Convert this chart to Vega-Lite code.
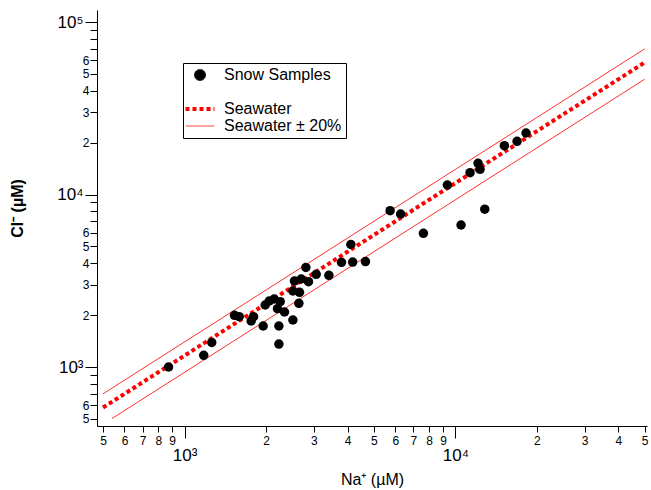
{
  "$schema": "https://vega.github.io/schema/vega-lite/v6.json",
  "width": 550,
  "height": 416,
  "autosize": "none",
  "padding": {"left": 97, "top": 10, "right": 4, "bottom": 64},
  "background": "white",
  "config": {
    "font": "Liberation Sans",
    "view": {"stroke": null},
    "axis": {
      "domainColor": "black",
      "tickColor": "black",
      "labelColor": "black",
      "titleColor": "black",
      "grid": false,
      "labelOverlap": false,
      "labelFlush": false,
      "labelBound": false,
      "labelFont": "Liberation Sans",
      "titleFont": "Liberation Sans"
    }
  },
  "datasets": {
    "snow": [
      {"series": "Snow Samples", "na": 873, "cl": 1000},
      {"series": "Snow Samples", "na": 1177, "cl": 1169},
      {"series": "Snow Samples", "na": 1260, "cl": 1387},
      {"series": "Snow Samples", "na": 1529, "cl": 1994},
      {"series": "Snow Samples", "na": 1591, "cl": 1957},
      {"series": "Snow Samples", "na": 1762, "cl": 1848},
      {"series": "Snow Samples", "na": 1798, "cl": 1957},
      {"series": "Snow Samples", "na": 1951, "cl": 1729},
      {"series": "Snow Samples", "na": 1985, "cl": 2288},
      {"series": "Snow Samples", "na": 2054, "cl": 2413},
      {"series": "Snow Samples", "na": 2143, "cl": 2479},
      {"series": "Snow Samples", "na": 2230, "cl": 1729},
      {"series": "Snow Samples", "na": 2230, "cl": 1359},
      {"series": "Snow Samples", "na": 2255, "cl": 2391},
      {"series": "Snow Samples", "na": 2204, "cl": 2178},
      {"series": "Snow Samples", "na": 2339, "cl": 2084},
      {"series": "Snow Samples", "na": 2512, "cl": 1873},
      {"series": "Snow Samples", "na": 2643, "cl": 2340},
      {"series": "Snow Samples", "na": 2657, "cl": 2710},
      {"series": "Snow Samples", "na": 2512, "cl": 2758},
      {"series": "Snow Samples", "na": 2546, "cl": 3152},
      {"series": "Snow Samples", "na": 2696, "cl": 3237},
      {"series": "Snow Samples", "na": 2805, "cl": 3774},
      {"series": "Snow Samples", "na": 2868, "cl": 3122},
      {"series": "Snow Samples", "na": 3062, "cl": 3446},
      {"series": "Snow Samples", "na": 3411, "cl": 3401},
      {"series": "Snow Samples", "na": 3797, "cl": 4045},
      {"series": "Snow Samples", "na": 4112, "cl": 5131},
      {"series": "Snow Samples", "na": 4176, "cl": 4061},
      {"series": "Snow Samples", "na": 4655, "cl": 4088},
      {"series": "Snow Samples", "na": 5741, "cl": 8056},
      {"series": "Snow Samples", "na": 6278, "cl": 7708},
      {"series": "Snow Samples", "na": 7619, "cl": 5959},
      {"series": "Snow Samples", "na": 10495, "cl": 6656},
      {"series": "Snow Samples", "na": 12838, "cl": 8217},
      {"series": "Snow Samples", "na": 9343, "cl": 11352},
      {"series": "Snow Samples", "na": 11329, "cl": 13381},
      {"series": "Snow Samples", "na": 12128, "cl": 15169},
      {"series": "Snow Samples", "na": 12334, "cl": 14000},
      {"series": "Snow Samples", "na": 15165, "cl": 19180},
      {"series": "Snow Samples", "na": 16894, "cl": 20340},
      {"series": "Snow Samples", "na": 18235, "cl": 22725}
    ],
    "band": [
      {"series": "Seawater ± 20%", "line": "upper", "na": 500, "cl": 699},
      {"series": "Seawater ± 20%", "line": "upper", "na": 50000, "cl": 69900},
      {"series": "Seawater ± 20%", "line": "lower", "na": 540, "cl": 503},
      {"series": "Seawater ± 20%", "line": "lower", "na": 50000, "cl": 46600}
    ],
    "sea": [
      {"series": "Seawater", "na": 500, "cl": 582.5},
      {"series": "Seawater", "na": 50000, "cl": 58250}
    ]
  },
  "encoding": {
    "x": {
      "field": "na",
      "type": "quantitative",
      "scale": {"type": "log", "domain": [475, 51000], "nice": false},
      "axis": {
        "title": "Na⁺ (µM)",
        "titleFontSize": 16,
        "titleFontWeight": "normal",
        "titleY": 45,
        "titleBaseline": "top",
        "values": [500, 600, 700, 800, 900, 1000, 2000, 3000, 4000, 5000, 6000, 7000, 8000, 9000, 10000, 20000, 30000, 40000, 50000],
        "labelExpr": "datum.value == 1000 ? '10³' : datum.value == 10000 ? '10⁴' : substring(toString(datum.value), 0, 1)",
        "labelFontSize": {"condition": {"test": "datum.value == 1000 || datum.value == 10000", "value": 17}, "value": 12},
        "tickSize": {"condition": {"test": "datum.value == 1000 || datum.value == 10000", "value": 12}, "value": 6},
        "labelPadding": {"condition": {"test": "datum.value == 1000 || datum.value == 10000", "value": 9}, "value": 3}
      }
    },
    "y": {
      "field": "cl",
      "type": "quantitative",
      "scale": {"type": "log", "domain": [455, 117400], "nice": false},
      "axis": {
        "title": "Cl⁻ (µM)",
        "titleFontSize": 16,
        "titleFontWeight": "bold",
        "titleX": -80,
        "titleY": 198,
        "titleAngle": -90,
        "titleBaseline": "middle",
        "titleAlign": "center",
        "values": [500, 600, 700, 800, 900, 1000, 2000, 3000, 4000, 5000, 6000, 7000, 8000, 9000, 10000, 20000, 30000, 40000, 50000, 60000, 70000, 80000, 90000, 100000],
        "labelExpr": "datum.value == 1000 ? '10³' : datum.value == 10000 ? '10⁴' : datum.value == 100000 ? '10⁵' : indexof(['7','8','9'], substring(toString(datum.value), 0, 1)) >= 0 ? '' : substring(toString(datum.value), 0, 1)",
        "labelFontSize": {"condition": {"test": "datum.value == 1000 || datum.value == 10000 || datum.value == 100000", "value": 17}, "value": 12},
        "tickSize": {"condition": {"test": "datum.value == 1000 || datum.value == 10000 || datum.value == 100000", "value": 12}, "value": 7},
        "labelPadding": {"condition": {"test": "datum.value == 1000 || datum.value == 10000 || datum.value == 100000", "value": 2}, "value": 1}
      }
    },
    "color": {
      "field": "series",
      "type": "nominal",
      "scale": {
        "domain": ["Snow Samples", " ", "Seawater", "Seawater ± 20%"],
        "range": ["#000000", "#ffffff", "#ff0000", "#ff3030"]
      },
      "legend": {
        "orient": "none",
        "legendX": 86,
        "legendY": 53,
        "title": null,
        "strokeColor": "black",
        "fillColor": "white",
        "padding": 4,
        "labelFontSize": 16,
        "labelFont": "Liberation Sans",
        "labelColor": "black",
        "labelOffset": 16,
        "symbolOffset": 5,
        "symbolSize": 841,
        "rowPadding": 1,
        "encode": {
          "symbols": {
            "update": {
              "shape": {"signal": "datum.value === 'Snow Samples' ? 'circle' : 'stroke'"},
              "size": {"signal": "datum.value === 'Snow Samples' ? 120 : 841"},
              "fill": {"signal": "datum.value === 'Snow Samples' ? '#000000' : 'transparent'"},
              "stroke": {"signal": "datum.value === 'Snow Samples' ? '#000000' : datum.value === ' ' ? 'transparent' : '#ff0000'"},
              "strokeWidth": {"signal": "datum.value === 'Seawater' ? 4 : 1"},
              "strokeDash": {"signal": "datum.value === 'Seawater' ? [4, 3] : [1, 0]"},
              "opacity": {"value": 1}
            }
          }
        }
      }
    }
  },
  "layer": [
    {
      "data": {"name": "band"},
      "mark": {"type": "line", "strokeWidth": 1, "clip": true},
      "encoding": {"detail": {"field": "line", "type": "nominal"}}
    },
    {
      "data": {"name": "sea"},
      "mark": {"type": "line", "strokeWidth": 4, "strokeDash": [4, 3], "clip": true},
      "encoding": {}
    },
    {
      "data": {"name": "snow"},
      "mark": {"type": "circle", "size": 90, "opacity": 1},
      "encoding": {}
    }
  ]
}
